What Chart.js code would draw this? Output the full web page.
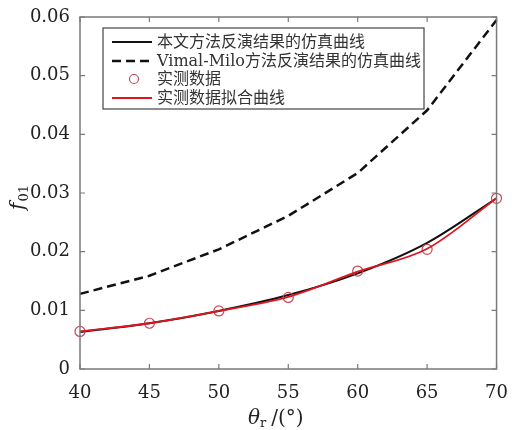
<!DOCTYPE html>
<html lang="zh">
<head>
<meta charset="UTF-8" />
<title>f01 vs theta_r</title>
<script src="https://cdn.jsdelivr.net/npm/chart.js@4"></script>
<style>
  html, body { margin: 0; padding: 0; background: #fff; }
  #wrap { width: 514px; height: 430px; position: relative; }
</style>
</head>
<body>
<div id="wrap"><canvas id="chart" width="514" height="430"></canvas></div>
<script>
// data
const thetaR = [40, 45, 50, 55, 60, 65, 70];
const proposedSim = [0.0063, 0.0078, 0.0099, 0.0126, 0.0163, 0.0215, 0.0291];
const vimalMiloSim = [0.0128, 0.0159, 0.0204, 0.0261, 0.0334, 0.0441, 0.0595];
const measured = [0.0064, 0.0078, 0.0099, 0.0122, 0.0167, 0.0204, 0.0291];
const measuredFit = [0.0064, 0.0078, 0.0099, 0.0123, 0.0166, 0.0205, 0.0291];

const xTicks = [40, 45, 50, 55, 60, 65, 70];
const yTicks = [0, 0.01, 0.02, 0.03, 0.04, 0.05, 0.06];
const yTickLabels = ['0', '0.01', '0.02', '0.03', '0.04', '0.05', '0.06'];

const legendLabels = [
  '本文方法反演结果的仿真曲线',
  'Vimal-Milo方法反演结果的仿真曲线',
  '实测数据',
  '实测数据拟合曲线'
];

const BLACK = '#111111';
const RED = '#e0141e';
const MARK = '#c8485a';
const AXIS = '#7a7a7a';
const tickFont = { family: '"DejaVu Serif", "Liberation Serif", serif', size: 18 };

const pts = arr => thetaR.map((x, i) => ({ x, y: arr[i] }));

// inside tick marks, box, axis titles and boxed legend
const decor = {
  id: 'decor',
  afterDraw(chart) {
    const { ctx, chartArea: a, scales } = chart;
    const sx = scales.x, sy = scales.y;
    ctx.save();
    ctx.strokeStyle = AXIS;
    ctx.lineWidth = 1.5;
    ctx.strokeRect(a.left, a.top, a.right - a.left, a.bottom - a.top);
    ctx.lineWidth = 1.2;
    ctx.beginPath();
    xTicks.forEach(v => {
      const px = sx.getPixelForValue(v);
      ctx.moveTo(px, a.bottom); ctx.lineTo(px, a.bottom - 5);
      ctx.moveTo(px, a.top); ctx.lineTo(px, a.top + 5);
    });
    yTicks.forEach(v => {
      const py = sy.getPixelForValue(v);
      ctx.moveTo(a.left, py); ctx.lineTo(a.left + 5, py);
      ctx.moveTo(a.right, py); ctx.lineTo(a.right - 5, py);
    });
    ctx.stroke();

    // x title: θr /(°)
    ctx.fillStyle = '#222';
    ctx.textBaseline = 'alphabetic';
    ctx.textAlign = 'left';
    let x = 248, y = 424;
    ctx.font = 'italic 20px "DejaVu Serif", serif';
    ctx.fillText('θ', x, y);
    x += ctx.measureText('θ').width;
    ctx.font = '13px "DejaVu Serif", serif';
    ctx.fillText('r', x, y + 3);
    x += ctx.measureText('r').width + 5;
    ctx.font = '20px "DejaVu Serif", serif';
    ctx.fillText('/(°)', x, y);

    // y title: f01 rotated
    ctx.translate(24, 210);
    ctx.rotate(-Math.PI / 2);
    ctx.font = 'italic 20px "DejaVu Serif", serif';
    ctx.fillText('f', 0, 0);
    const fw = ctx.measureText('f').width;
    ctx.font = '13px "DejaVu Serif", serif';
    ctx.fillText('01', fw + 1, 4);
    ctx.setTransform(1, 0, 0, 1, 0, 0);

    // legend box
    const bx = 103, by = 28, bw = 321, bh = 81;
    ctx.fillStyle = '#fff';
    ctx.fillRect(bx, by, bw, bh);
    ctx.strokeStyle = '#444';
    ctx.lineWidth = 1.2;
    ctx.strokeRect(bx, by, bw, bh);
    const rows = [42, 61, 79, 98];
    ctx.font = '16px "DejaVu Serif", "Noto Sans CJK SC", serif';
    ctx.textBaseline = 'middle';
    legendLabels.forEach((t, i) => {
      const ry = rows[i];
      ctx.setLineDash([]);
      if (i === 0) {
        ctx.strokeStyle = BLACK; ctx.lineWidth = 2;
        ctx.beginPath(); ctx.moveTo(112, ry); ctx.lineTo(152, ry); ctx.stroke();
      } else if (i === 1) {
        ctx.strokeStyle = BLACK; ctx.lineWidth = 2.5; ctx.setLineDash([9, 5]);
        ctx.beginPath(); ctx.moveTo(112, ry); ctx.lineTo(152, ry); ctx.stroke();
        ctx.setLineDash([]);
      } else if (i === 2) {
        ctx.strokeStyle = MARK; ctx.lineWidth = 1.2;
        ctx.beginPath(); ctx.arc(134, ry, 4.5, 0, Math.PI * 2); ctx.stroke();
      } else {
        ctx.strokeStyle = RED; ctx.lineWidth = 1.8;
        ctx.beginPath(); ctx.moveTo(112, ry); ctx.lineTo(152, ry); ctx.stroke();
      }
      ctx.fillStyle = '#333';
      ctx.fillText(t, 157, ry + 1);
    });
    ctx.restore();
  }
};

new Chart(document.getElementById('chart'), {
  type: 'line',
  data: {
    datasets: [
      {
        label: legendLabels[3], data: pts(measuredFit), borderColor: RED,
        borderWidth: 1.8, pointRadius: 0, cubicInterpolationMode: 'monotone', order: 0, clip: false
      },
      {
        label: legendLabels[2], data: pts(measured), showLine: false,
        pointStyle: 'circle', pointRadius: 5, pointBorderWidth: 1.2,
        pointBorderColor: MARK, pointBackgroundColor: 'rgba(0,0,0,0)', order: 1, clip: false
      },
      {
        label: legendLabels[0], data: pts(proposedSim), borderColor: BLACK,
        borderWidth: 2, pointRadius: 0, cubicInterpolationMode: 'monotone', order: 2, clip: false
      },
      {
        label: legendLabels[1], data: pts(vimalMiloSim), borderColor: BLACK,
        borderWidth: 2.5, borderDash: [9, 5], pointRadius: 0, order: 3, clip: false
      }
    ]
  },
  options: {
    responsive: false,
    animation: false,
    layout: { padding: { left: 0, top: 17, right: 12, bottom: 0 } },
    plugins: { legend: { display: false }, tooltip: { enabled: false } },
    scales: {
      x: {
        type: 'linear', min: 40, max: 70,
        grid: { display: false }, border: { display: false },
        afterBuildTicks: s => { s.ticks = xTicks.map(v => ({ value: v })); },
        ticks: { font: tickFont, color: '#222', padding: 6, maxRotation: 0 },
        afterFit: s => { s.height = 61; }
      },
      y: {
        type: 'linear', min: 0, max: 0.06,
        grid: { display: false }, border: { display: false },
        afterBuildTicks: s => { s.ticks = yTicks.map(v => ({ value: v })); },
        ticks: {
          font: tickFont, color: '#222', padding: 2,
          callback: (v) => yTickLabels[yTicks.findIndex(t => Math.abs(t - v) < 1e-9)]
        },
        afterFit: s => { s.width = 80; }
      }
    }
  },
  plugins: [decor]
});
</script>
</body>
</html>
